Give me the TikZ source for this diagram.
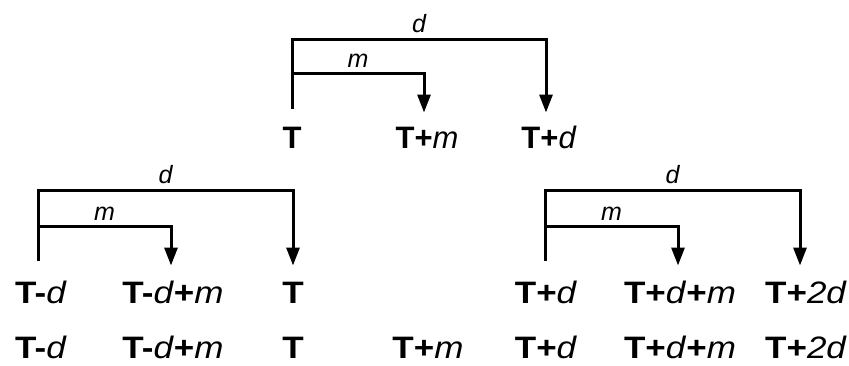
\documentclass[tikz,border=0pt]{standalone}
\usepackage{fontspec}
\setmainfont{Liberation Sans}
\newfontfamily\widefont[FakeStretch=1.13]{Liberation Sans}
\usetikzlibrary{arrows.meta}
\newcommand\vv[1]{\textit{\mdseries #1}}
\begin{document}
\begin{tikzpicture}[x=0.5pt,y=-0.5pt,
  val/.style={font=\fontsize{15.5}{18}\selectfont\bfseries, inner sep=0pt, text height=11.1pt, text depth=0pt},
  wval/.style={val, font=\widefont\fontsize{15.5}{18}\selectfont\bfseries},
  lbl/.style={font=\fontsize{12.5}{14}\selectfont\itshape, inner sep=0pt},
  br/.style={line width=1.5pt, line join=miter},
  arr/.style={br, -{Triangle[length=9pt,width=6.5pt]}}]
\useasboundingbox (0,0) rectangle (849,365);

% top group
\node[val] (a0) at (292,137) {T};
\node[val] (a1) at (427,137) {T+\vv{m}};
\node[val] (a2) at (549,137) {T+\vv{d}};
\draw[arr] ([yshift=8.5pt]a0.north) -- ++(0,-69) -| node[lbl,above=2.5pt,pos=0.25]{d} ([yshift=6.5pt,xshift=-1.5pt]a2.north);
\draw[arr] ([yshift=8.5pt]a0.north) ++(0,-35) -| node[lbl,above=2.5pt,pos=0.25]{m} ([yshift=6.5pt,xshift=-1.5pt]a1.north);

% left group
\node[wval] (b0) at (41,292) {T-\vv{d}};
\node[wval] (b1) at (173,292) {T-\vv{d}+\vv{m}};
\node[wval] (b2) at (293,292) {T};
\draw[arr] ([yshift=10pt,xshift=-1.5pt]b0.north) -- ++(0,-70) -| node[lbl,above=2.5pt,pos=0.25]{d} ([yshift=7.5pt]b2.north);
\draw[arr] ([yshift=10pt,xshift=-1.5pt]b0.north) ++(0,-34) -| node[lbl,above=2.5pt,pos=0.25]{m} ([yshift=7.5pt,xshift=-1pt]b1.north);

% right group
\node[wval] (c0) at (546,292) {T+\vv{d}};
\node[wval] (c1) at (680,292) {T+\vv{d}+\vv{m}};
\node[wval] (c2) at (806,292) {T+\vv{2d}};
\draw[arr] ([yshift=10pt,xshift=-0.5pt]c0.north) -- ++(0,-70) -| node[lbl,above=2.5pt,pos=0.25]{d} ([yshift=7.5pt,xshift=-3pt]c2.north);
\draw[arr] ([yshift=10pt,xshift=-0.5pt]c0.north) ++(0,-34) -| node[lbl,above=2.5pt,pos=0.25]{m} ([yshift=7.5pt,xshift=-1pt]c1.north);

% bottom row
\node[wval] (r0) at (41,347) {T-\vv{d}};
\node[wval] (r1) at (173,347) {T-\vv{d}+\vv{m}};
\node[wval] (r2) at (293,347) {T};
\node[wval] (r3) at (428,347) {T+\vv{m}};
\node[wval] (r4) at (546,347) {T+\vv{d}};
\node[wval] (r5) at (680,347) {T+\vv{d}+\vv{m}};
\node[wval] (r6) at (806,347) {T+\vv{2d}};
\end{tikzpicture}
\end{document}
